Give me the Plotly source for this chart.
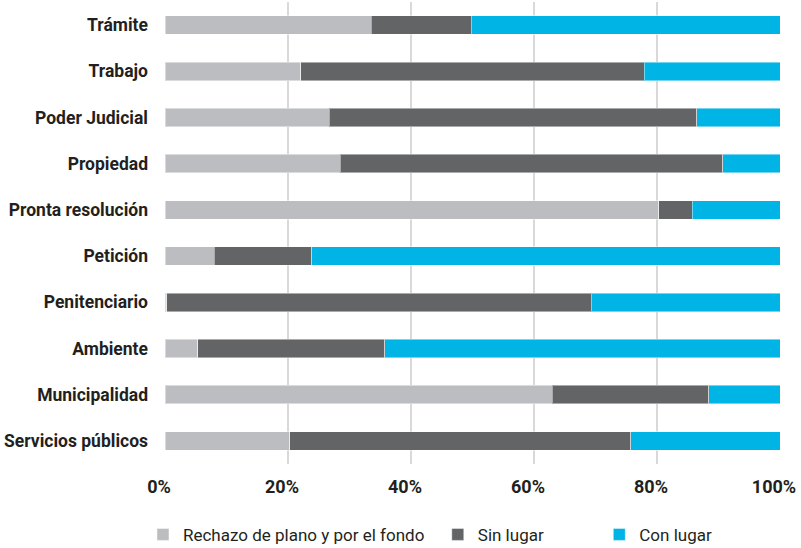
import plotly.graph_objects as go

categories = ["Trámite", "Trabajo", "Poder Judicial", "Propiedad", "Pronta resolución",
              "Petición", "Penitenciario", "Ambiente", "Municipalidad", "Servicios públicos"]
rechazo = [33.5, 22.1, 26.7, 28.5, 80.3, 8.0, 0.3, 5.3, 63.0, 20.3]
sin_lugar = [16.3, 55.8, 59.8, 62.2, 5.4, 15.9, 69.0, 30.4, 25.4, 55.4]
con_lugar = [round(100 - a - b, 1) for a, b in zip(rechazo, sin_lugar)]

series_names = ["Rechazo de plano y por el fondo", "Sin lugar", "Con lugar"]
colors = ["#bcbdc0", "#636466", "#00b5e6"]
tick_vals = [0, 20, 40, 60, 80, 100]
tick_text = ["0%", "20%", "40%", "60%", "80%", "100%"]

FONT = "Roboto, sans-serif"
pad = {"Rechazo de plano y por el fondo": 2, "Sin lugar": 12, "Con lugar": 0}

fig = go.Figure()
for name, vals, col in zip(series_names, [rechazo, sin_lugar, con_lugar], colors):
    fig.add_trace(go.Bar(
        y=categories, x=vals, name=name + "\u00a0" * pad[name], orientation="h",
        marker=dict(color=col, line=dict(color="rgba(255,255,255,0.45)", width=1)),
    ))

fig.update_layout(
    width=801, height=548,
    barmode="stack", bargap=0.6,
    plot_bgcolor="white", paper_bgcolor="white",
    margin=dict(l=165, r=21, t=2, b=84, autoexpand=False),
    font=dict(family=FONT, color="#231f20"),
    legend=dict(orientation="h", xref="container", yref="container",
                x=0.1785, xanchor="left", y=0.024, yanchor="middle",
                font=dict(size=17, family=FONT, color="#231f20"),
                traceorder="normal"),
    xaxis=dict(range=[0, 100], tickvals=tick_vals, ticktext=tick_text,
               showgrid=True, gridcolor="#d9d9d9", gridwidth=1.5, zeroline=False,
               tickfont=dict(size=18, family=FONT, weight="bold", color="#231f20"),
               ticklabelstandoff=10, ticklabelshift=-6, ticklabeloverflow="allow",
               automargin=False, fixedrange=True),
    yaxis=dict(categoryorder="array", categoryarray=categories[::-1],
               tickfont=dict(size=17.5, family=FONT, weight="bold", color="#231f20"),
               ticklabelstandoff=16, showgrid=False, automargin=False, fixedrange=True),
)

fig.write_html("out.html", config={"displayModeBar": False},
               post_script="document.body.style.margin='0';document.body.style.overflow='hidden';")
